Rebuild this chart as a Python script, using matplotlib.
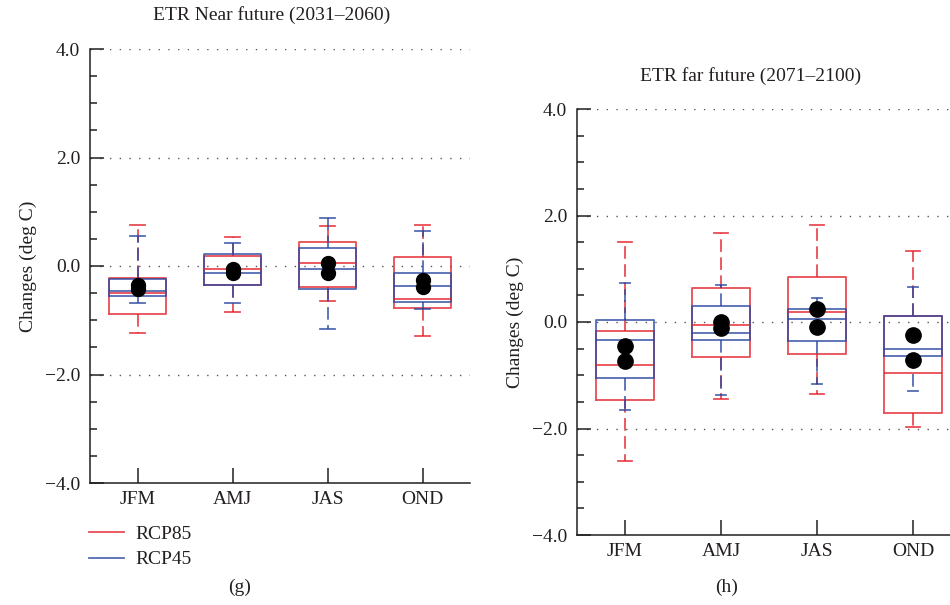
import matplotlib
matplotlib.use("Agg")
import matplotlib.pyplot as plt
from matplotlib.lines import Line2D
from matplotlib.ticker import MultipleLocator

plt.rcParams['font.family'] = ['Liberation Serif', 'DejaVu Serif']

seasons = ["JFM", "AMJ", "JAS", "OND"]

# Near future (2031-2060): box statistics per season
near85_whislo = [-1.24, -0.84, -0.65, -1.29]
near85_q1 = [-0.89, -0.35, -0.38, -0.77]
near85_med = [-0.49, -0.06, 0.06, -0.61]
near85_q3 = [-0.23, 0.19, 0.44, 0.16]
near85_whishi = [0.75, 0.54, 0.74, 0.75]
near85_mean = [-0.35, -0.06, 0.05, -0.26]

near45_whislo = [-0.69, -0.68, -1.16, -0.80]
near45_q1 = [-0.55, -0.35, -0.42, -0.67]
near45_med = [-0.47, -0.12, -0.06, -0.37]
near45_q3 = [-0.24, 0.23, 0.34, -0.12]
near45_whishi = [0.55, 0.43, 0.89, 0.65]
near45_mean = [-0.43, -0.12, -0.12, -0.39]

# Far future (2071-2100)
far85_whislo = [-2.61, -1.45, -1.36, -1.97]
far85_q1 = [-1.46, -0.66, -0.60, -1.70]
far85_med = [-0.80, -0.06, 0.19, -0.95]
far85_q3 = [-0.16, 0.63, 0.85, 0.12]
far85_whishi = [1.50, 1.68, 1.83, 1.33]
far85_mean = [-0.46, 0.00, 0.24, -0.25]

far45_whislo = [-1.66, -1.38, -1.16, -1.29]
far45_q1 = [-1.05, -0.34, -0.36, -0.63]
far45_med = [-0.34, -0.21, 0.05, -0.50]
far45_q3 = [0.04, 0.30, 0.24, 0.12]
far45_whishi = [0.73, 0.69, 0.46, 0.65]
far45_mean = [-0.73, -0.12, -0.09, -0.71]

RED = "#e3202b"
BLUE = "#2a47a0"
TXT = "#231f20"
FS = 14


def stats(lo, q1, med, q3, hi):
    return [dict(whislo=a, q1=b, med=c, q3=d, whishi=e, fliers=[])
            for a, b, c, d, e in zip(lo, q1, med, q3, hi)]


def draw_boxes(ax, st, color, capw):
    pos = list(range(1, len(st) + 1))
    lp = dict(color=color, lw=1.3, alpha=0.8)
    ax.bxp(st, positions=pos, widths=0.6, capwidths=capw, showfliers=False,
           boxprops=lp, medianprops=lp, capprops=lp,
           whiskerprops=dict(color=color, lw=1.3, alpha=0.8,
                             linestyle=(0, (7, 3))),
           manage_ticks=False)


def fmt(t):
    return "\u2212%.1f" % abs(t) if t < 0 else "%.1f" % t


def style_axes(ax, title, title_xy):
    ax.set_xlim(0.5, 4.5)
    ax.set_ylim(-4, 4)
    for s in ("top", "right"):
        ax.spines[s].set_visible(False)
    for s in ("left", "bottom"):
        ax.spines[s].set_linewidth(1.1)
        ax.spines[s].set_color(TXT)
    ax.yaxis.set_minor_locator(MultipleLocator(0.5))
    ticks = [-4, -2, 0, 2, 4]
    ax.set_yticks(ticks)
    ax.set_yticklabels([fmt(t) for t in ticks])
    ax.set_xticks(range(1, 5))
    ax.set_xticklabels(seasons, fontsize=FS, color=TXT)
    ax.tick_params(axis="y", which="major", direction="in", length=10,
                   width=1.1, color=TXT, labelsize=FS, labelcolor=TXT, pad=7)
    ax.tick_params(axis="y", which="minor", direction="in", length=5,
                   width=1.1, color=TXT)
    ax.tick_params(axis="x", direction="in", length=11, width=1.1,
                   color=TXT, pad=6)
    for t in [4, 2, 0, -2]:
        ax.axhline(t, color="#555555", lw=1.0, linestyle=(0, (1, 6)),
                   zorder=0)
    ax.set_ylabel("Changes (deg C)", fontsize=FS, color=TXT, labelpad=6)
    fig.text(title_xy[0], title_xy[1], title, fontsize=FS, color=TXT,
             ha="center", va="center")


fig = plt.figure(figsize=(9.5, 6.05), dpi=100)
W, H = 950.0, 605.0

axL = fig.add_axes([90 / W, 1 - 483 / H, 380 / W, 434 / H])
axR = fig.add_axes([577 / W, 1 - 535 / H, 384 / W, 426 / H])

draw_boxes(axL, stats(near85_whislo, near85_q1, near85_med, near85_q3,
                      near85_whishi), RED, 0.16)
draw_boxes(axL, stats(near45_whislo, near45_q1, near45_med, near45_q3,
                      near45_whishi), BLUE, 0.15)
draw_boxes(axR, stats(far85_whislo, far85_q1, far85_med, far85_q3,
                      far85_whishi), RED, 0.15)
draw_boxes(axR, stats(far45_whislo, far45_q1, far45_med, far45_q3,
                      far45_whishi), BLUE, 0.11)

x = list(range(1, 5))
for ax, m85, m45, ms in ((axL, near85_mean, near45_mean, 10),
                         (axR, far85_mean, far45_mean, 11)):
    ax.plot(x, m85, "o", color="black", ms=ms, zorder=5)
    ax.plot(x, m45, "o", color="black", ms=ms, zorder=5)

style_axes(axL, "ETR Near future (2031\u20132060)", (272 / W, 1 - 15 / H))
style_axes(axR, "ETR far future (2071\u20132100)", (751 / W, 1 - 76 / H))

handles = [Line2D([], [], color=RED, lw=1.3, alpha=0.8),
           Line2D([], [], color=BLUE, lw=1.3, alpha=0.8)]
fig.legend(handles, ["RCP85", "RCP45"], loc="upper left",
           bbox_to_anchor=(71 / W, 1 - 508 / H), frameon=False,
           fontsize=FS, handlelength=1.8, handletextpad=0.6,
           labelspacing=0.4, labelcolor=TXT)

fig.text(240 / W, 1 - 587 / H, "(g)", fontsize=FS, ha="center",
         va="center", color=TXT)
fig.text(727 / W, 1 - 587 / H, "(h)", fontsize=FS, ha="center",
         va="center", color=TXT)

fig.savefig("out.png", dpi=100)
